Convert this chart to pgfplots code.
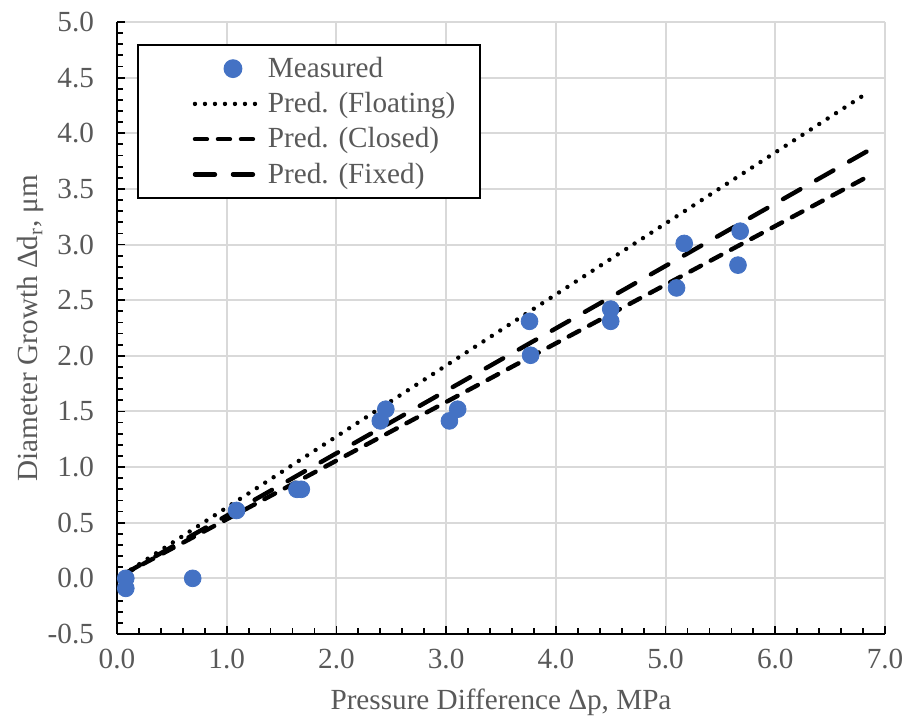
\documentclass[border=0pt]{standalone}
\usepackage{fontspec}
\setmainfont{Liberation Serif}
\usepackage{pgfplots}
\pgfplotsset{compat=1.18}

\definecolor{mblue}{RGB}{68,114,196}
\definecolor{txtgray}{RGB}{89,89,89}
\definecolor{gridgray}{RGB}{217,217,217}

\tikzset{
  floatline/.style={black, line width=2.2pt, line cap=round, dash pattern=on 0pt off 5pt},
  closedline/.style={black, line width=2.2pt, line cap=round, dash pattern=on 6pt off 5.5pt},
  fixedline/.style={black, line width=2.2pt, line cap=round, dash pattern=on 10pt off 9pt},
}
% invisible box that sets the size of a legend image
\newcommand{\legbox}{\pgfpathrectangle{\pgfpoint{0pt}{-5pt}}{\pgfpoint{57pt}{10pt}}\pgfusepath{use as bounding box}}

\begin{document}
\begin{tikzpicture}
\begin{axis}[
    scale only axis, width=384pt, height=306pt,
    font=\fontsize{14.6}{17}\selectfont,
    xmin=0, xmax=7, ymin=-0.5, ymax=5,
    xtick={0,1,...,7}, ytick={-0.5,0,...,5},
    minor x tick num=4, minor y tick num=4,
    axis x line*=bottom, axis y line*=left,
    axis line style={line width=1.4pt, black, -},
    tick style={line width=0.9pt, black},
    tick align=inside,
    major tick length=4pt, minor tick length=3pt,
    grid=major, major grid style={gridgray, line width=1pt},
    ticklabel style={txtgray, /pgf/number format/fixed, /pgf/number format/fixed zerofill, /pgf/number format/precision=1},
    /pgf/number format/assume math mode=true,
    xticklabel style={yshift=-4pt},
    yticklabel style={xshift=-8pt},
    xlabel={Pressure Difference Δp, MPa},
    ylabel={Diameter Growth Δd\textsubscript{r}, μm},
    label style={txtgray},
    xlabel style={at={(axis description cs:0.5,-0.112)}, anchor=center},
    ylabel style={at={(axis description cs:-0.112,0.5)}, anchor=center},
    legend style={at={(0.026,0.964)}, anchor=north west, draw=black, line width=1pt,
        inner xsep=6pt, inner ysep=4pt, row sep=2pt, text=txtgray,
        font=\fontsize{14.6}{17}\selectfont},
    legend cell align=left,
]
\coordinate (ll) at (rel axis cs:0,0);
\coordinate (ur) at (rel axis cs:1,1);

\addplot[only marks, mark=*, mark size=4.2pt, color=mblue, fill=mblue,
    legend image code/.code={\legbox \fill[mblue] (41.5pt,0pt) circle (4.2pt);}]
  coordinates {
    (0.08,0.00) (0.08,-0.09) (0.69,0.00) (1.09,0.61) (1.64,0.80) (1.68,0.80)
    (2.40,1.415) (2.45,1.52) (3.03,1.415) (3.105,1.52) (3.76,2.31) (3.77,2.005)
    (4.50,2.42) (4.50,2.31) (5.10,2.61) (5.17,3.01) (5.66,2.815) (5.68,3.12)
  };
\addlegendentry{Measured}

\addplot[floatline,
    legend image code/.code={\legbox \draw[floatline] (22.5pt,0pt) -- (53.5pt,0pt);}]
  coordinates {(0.05,0.03) (6.85,4.37)};
\addlegendentry{Pred. (Floating)\hspace*{4.5pt}}

\addplot[closedline,
    legend image code/.code={\legbox \draw[closedline] (22.5pt,0pt) -- (53.5pt,0pt);}]
  coordinates {(0.05,0.03) (6.88,3.63)};
\addlegendentry{Pred. (Closed)}

\addplot[fixedline,
    legend image code/.code={\legbox \draw[fixedline] (22.5pt,0pt) -- (53.5pt,0pt);}]
  coordinates {(0.05,0.03) (6.84,3.84)};
\addlegendentry{Pred. (Fixed)}
\end{axis}
\pgfresetboundingbox
\path ([xshift=-58.5pt,yshift=-47pt]ll) rectangle ([xshift=9.5pt,yshift=11pt]ur);
\end{tikzpicture}
\end{document}
